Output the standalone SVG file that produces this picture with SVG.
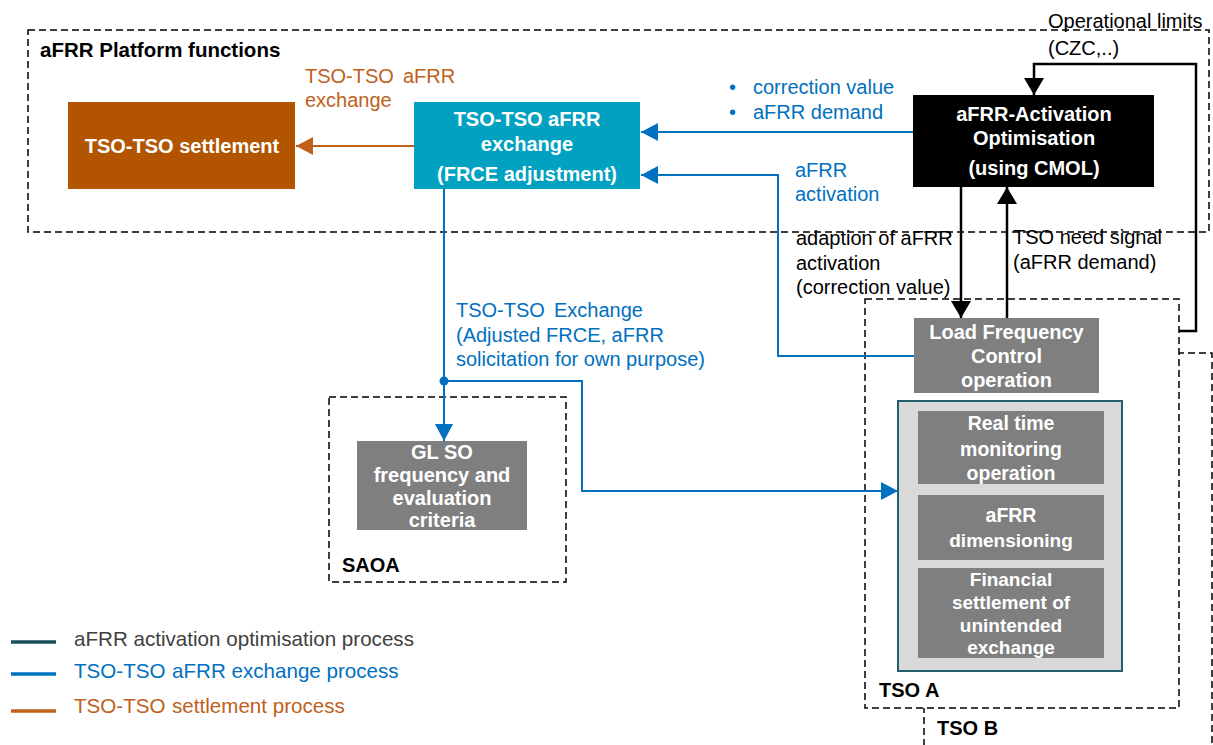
<svg xmlns="http://www.w3.org/2000/svg" width="1213" height="745" viewBox="0 0 1213 745">
  <style>
    text { font-family: "Liberation Sans", Arial, sans-serif; font-size: 20px; }
    .b { font-weight: bold; }
    .w { fill: #ffffff; font-weight: bold; text-anchor: middle; }
    .blue { fill: #0070C0; }
    .orange { fill: #C0601A; }
    .black { fill: #000000; }
    .lg { font-size: 20.6px; }
    .frame { fill: none; stroke: #000; stroke-width: 1.5; stroke-dasharray: 7 4; }
    .frameW { fill: #ffffff; stroke: #000; stroke-width: 1.5; stroke-dasharray: 7 4; }
    .gray { fill: #7F7F7F; }
    .cb { fill: none; stroke: #0070C0; stroke-width: 2; }
    .co { fill: none; stroke: #C0601A; stroke-width: 2; }
    .ck { fill: none; stroke: #000; stroke-width: 2.5; }
  </style>
  <defs>
    <marker id="ab" markerUnits="userSpaceOnUse" markerWidth="17" markerHeight="18" refX="17" refY="9" orient="auto">
      <path d="M0,0 L17,9 L0,18 z" fill="#0070C0"/>
    </marker>
    <marker id="ao" markerUnits="userSpaceOnUse" markerWidth="17" markerHeight="18" refX="17" refY="9" orient="auto">
      <path d="M0,0 L17,9 L0,18 z" fill="#C0601A"/>
    </marker>
    <marker id="ak" markerUnits="userSpaceOnUse" markerWidth="17" markerHeight="20" refX="17" refY="10" orient="auto">
      <path d="M0,0 L17,10 L0,20 z" fill="#000"/>
    </marker>
  </defs>

  <!-- frames -->
  <g id="platform">
    <rect class="frame" x="28" y="30" width="1181" height="202"/>
    <text class="b black" x="40" y="57" style="font-size:20.5px">aFRR Platform functions</text>
  </g>
  <g id="tso-b">
    <rect class="frameW" x="924" y="353" width="288" height="420"/>
    <text class="b black" x="937" y="735">TSO B</text>
  </g>
  <g id="tso-a">
    <rect class="frameW" x="865" y="299" width="314" height="409"/>
    <text class="b black" x="879" y="697">TSO A</text>
  </g>
  <g id="saoa">
    <rect class="frame" x="329" y="397" width="237" height="185"/>
    <text class="b black" x="342" y="572">SAOA</text>
  </g>

  <!-- nodes -->
  <g id="settlement">
    <rect x="68" y="102" width="227" height="87" fill="#B25400"/>
    <text class="w" x="182" y="153">TSO-TSO settlement</text>
  </g>
  <g id="exchange">
    <rect x="414" y="102" width="226" height="87" fill="#00A1C1"/>
    <text class="w" x="527" y="126">TSO-TSO aFRR</text>
    <text class="w" x="527" y="151">exchange</text>
    <text class="w" x="527" y="181">(FRCE adjustment)</text>
  </g>
  <g id="optimisation">
    <rect x="913" y="95" width="241" height="92" fill="#000"/>
    <text class="w" x="1034" y="121">aFRR-Activation</text>
    <text class="w" x="1034" y="145">Optimisation</text>
    <text class="w" x="1034" y="175">(using CMOL)</text>
  </g>
  <g id="lfc">
    <rect class="gray" x="914" y="318" width="185" height="75"/>
    <text class="w" x="1006.5" y="339">Load Frequency</text>
    <text class="w" x="1006.5" y="363">Control</text>
    <text class="w" x="1006.5" y="387">operation</text>
  </g>
  <g id="tso-functions">
    <rect x="898" y="401" width="224" height="270" fill="#D9D9D9" stroke="#245F6B" stroke-width="2"/>
  </g>
  <g id="monitoring">
    <rect class="gray" x="918" y="411" width="186" height="73"/>
    <text class="w" x="1011" y="430" style="font-size:19.5px">Real time</text>
    <text class="w" x="1011" y="456" style="font-size:19.5px">monitoring</text>
    <text class="w" x="1011" y="480" style="font-size:19.5px">operation</text>
  </g>
  <g id="dimensioning">
    <rect class="gray" x="918" y="495" width="186" height="65"/>
    <text class="w" x="1011" y="522" style="font-size:19.5px">aFRR</text>
    <text class="w" x="1011" y="547" style="font-size:19px">dimensioning</text>
  </g>
  <g id="financial">
    <rect class="gray" x="918" y="568" width="186" height="90"/>
    <text class="w" x="1011" y="586" style="font-size:19px">Financial</text>
    <text class="w" x="1011" y="609" style="font-size:19px">settlement of</text>
    <text class="w" x="1011" y="632" style="font-size:19px">unintended</text>
    <text class="w" x="1011" y="654" style="font-size:19px">exchange</text>
  </g>
  <g id="glso">
    <rect class="gray" x="357" y="441" width="170" height="89"/>
    <text class="w" x="442" y="459">GL SO</text>
    <text class="w" x="442" y="482">frequency and</text>
    <text class="w" x="442" y="505">evaluation</text>
    <text class="w" x="442" y="527">criteria</text>
  </g>

  <!-- connectors -->
  <g id="connectors">
    <path class="co" d="M414,146 L296,146" marker-end="url(#ao)"/>
    <path class="cb" d="M913,132 L641,132" marker-end="url(#ab)"/>
    <path class="cb" d="M914,356 L778,356 L778,175 L641,175" marker-end="url(#ab)"/>
    <path class="cb" d="M444,189 L444,441" marker-end="url(#ab)"/>
    <path class="cb" d="M444,381 L582,381 L582,491 L898,491" marker-end="url(#ab)"/>
    <circle cx="444" cy="381" r="4.5" fill="#0070C0"/>
    <path class="ck" d="M961,187 L961,318" marker-end="url(#ak)"/>
    <path class="ck" d="M1007,318 L1007,187" marker-end="url(#ak)"/>
    <path class="ck" d="M1179,331 L1196,331 L1196,64 L1034,64 L1034,95" marker-end="url(#ak)"/>
  </g>

  <!-- connector labels -->
  <g id="labels">
    <text class="orange" x="305" y="83">TSO-TSO<tspan x="403">aFRR</tspan></text>
    <text class="orange" x="305" y="107">exchange</text>
    <text class="blue" x="729" y="94">•</text>
    <text class="blue" x="753" y="94">correction value</text>
    <text class="blue" x="729" y="119">•</text>
    <text class="blue" x="753" y="119">aFRR demand</text>
    <text class="blue" x="795" y="177">aFRR</text>
    <text class="blue" x="795" y="201">activation</text>
    <text class="black" x="796" y="245">adaption of aFRR</text>
    <text class="black" x="796" y="270">activation</text>
    <text class="black" x="796" y="294">(correction value)</text>
    <text class="black" x="1013" y="244">TSO need signal</text>
    <text class="black" x="1013" y="269">(aFRR demand)</text>
    <text class="black" x="1048" y="28">Operational limits</text>
    <text class="black" x="1048" y="55">(CZC,..)</text>
    <text class="blue" x="456" y="317">TSO-TSO<tspan x="554">Exchange</tspan></text>
    <text class="blue" x="456" y="342">(Adjusted FRCE, aFRR</text>
    <text class="blue" x="456" y="366">solicitation for own purpose)</text>
  </g>

  <!-- legend -->
  <g id="legend">
    <line x1="11" y1="642" x2="56" y2="642" stroke="#17505A" stroke-width="3.5"/>
    <text class="lg" x="74" y="646" fill="#404040">aFRR activation optimisation process</text>
    <line x1="11" y1="674" x2="56" y2="674" stroke="#0070C0" stroke-width="3.5"/>
    <text class="blue lg" x="74" y="678">TSO-TSO<tspan x="172">aFRR exchange process</tspan></text>
    <line x1="11" y1="711" x2="56" y2="711" stroke="#C0601A" stroke-width="3.5"/>
    <text class="orange lg" x="74" y="713">TSO-TSO<tspan x="172">settlement process</tspan></text>
  </g>
</svg>
